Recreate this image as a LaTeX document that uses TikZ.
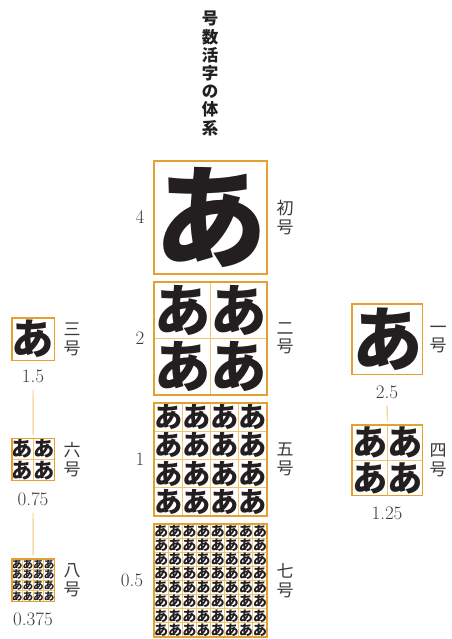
\documentclass[tikz,border=0pt]{standalone}
\usepackage{fontspec}
\newfontfamily\cjk{Noto Sans CJK JP}
\definecolor{outerc}{HTML}{E3A033}
\definecolor{innerc}{HTML}{F0C470}
\definecolor{ink}{HTML}{231F20}
\definecolor{lblc}{HTML}{3A3A3A}
\tikzset{
  kana/.style={inner sep=0pt, text=ink},
  outerbox/.style={draw=outerc, line width=1.1pt, inner sep=0pt, fill=none},
  innerline/.style={draw=innerc, line width=0.9pt},
  lbl/.style={inner sep=0pt, text=lblc, align=center, font=\cjk\fontsize{17}{18.5}\selectfont},
  num/.style={inner sep=0pt, text=lblc, font=\fontsize{19}{19}\selectfont},
  ttl/.style={inner sep=0pt, text=ink, align=center, font=\cjk\bfseries\fontsize{16.5}{18.2}\selectfont},
  link/.style={draw=innerc, line width=0.9pt, shorten <=7pt, shorten >=3pt}
}
\newcommand\kanabox[5]{%
  \pgfmathsetmacro\cs{#4/#5}%
  \pgfmathsetmacro\fs{1.0*\cs}%
  \foreach \k in {0,...,#5}{%
    \draw[innerline] ({#2+\k*\cs},#3) -- ({#2+\k*\cs},{#3+#4});
    \draw[innerline] (#2,{#3+\k*\cs}) -- ({#2+#4},{#3+\k*\cs});
  }%
  \foreach \i in {1,...,#5}{%
    \foreach \j in {1,...,#5}{%
      \node[kana, font=\cjk\bfseries\fontsize{\fs}{\fs}\selectfont] (#1-\i-\j) at ({#2+(\i-0.5)*\cs},{#3+(\j-0.5)*\cs}) {あ};
    }%
  }%
  \node[outerbox, minimum size=#4] (#1) at ({#2+#4/2},{#3+#4/2}) {};
}
\begin{document}
\begin{tikzpicture}[x=1pt,y=-1pt]
\useasboundingbox (0,0) rectangle (451,639);
% title
\node[ttl] (title) at (210,73.5) {号\\数\\活\\字\\の\\体\\系};
% main column
\kanabox{b0}{154}{161}{113}{1}
\kanabox{b2}{154}{282}{113}{2}
\kanabox{b5}{154}{403}{113}{4}
\kanabox{b7}{154}{524}{113}{8}
\node[num] (n0) at (140,217.5) {4};
\node[num] (n2) at (140,338.5) {2};
\node[num] (n5) at (140,459.5) {1};
\node[num] (n7) at (132,580.5) {0.5};
\node[lbl] (l0) at (285,217.5) {初\\号};
\node[lbl] (l2) at (285,338.5) {二\\号};
\node[lbl] (l5) at (285,459.5) {五\\号};
\node[lbl] (l7) at (285,580.5) {七\\号};
% left column
\kanabox{b3}{12}{318}{42.4}{1}
\kanabox{b6}{12}{438.5}{42.4}{2}
\kanabox{b8}{12}{559}{42.4}{4}
\node[num] (n3) at (33,376.5) {1.5};
\node[num] (n6) at (33,499) {0.75};
\node[num] (n8) at (33,619.5) {0.375};
\node[lbl] (l3) at (72,339.2) {三\\号};
\node[lbl] (l6) at (72,459.7) {六\\号};
\node[lbl] (l8) at (72,580.2) {八\\号};
\draw[link] (n3.south) -- (b6.north);
\draw[link] (n6.south) -- (b8.north);
% right column
\kanabox{b1}{352}{304}{70.6}{1}
\kanabox{b4}{352}{425}{70.6}{2}
\node[num] (n1) at (387,392) {2.5};
\node[num] (n4) at (387,513) {1.25};
\node[lbl] (l1) at (438,339.3) {一\\号};
\node[lbl] (l4) at (438,460.3) {四\\号};
\draw[link] (n1.south) -- (b4.north);
\end{tikzpicture}
\end{document}
